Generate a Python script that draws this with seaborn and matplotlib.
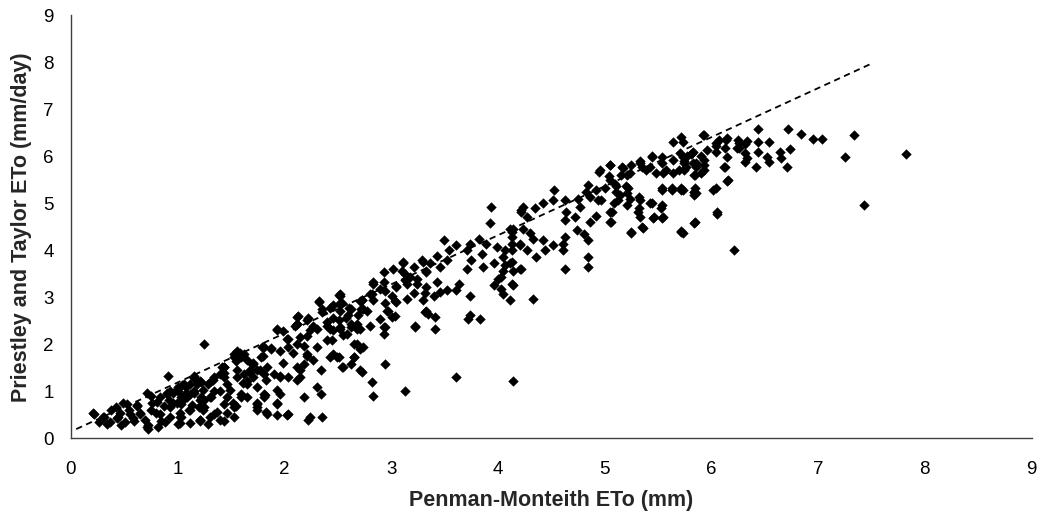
import matplotlib
matplotlib.use("Agg")
import matplotlib.pyplot as plt
import seaborn as sns

# Penman-Monteith ETo (mm) vs Priestley and Taylor ETo (mm/day)
pm_eto = [
    # low end
    0.21, 0.30, 0.38, 0.43, 0.49, 0.54, 0.51, 0.62, 0.65, 0.69,
    0.71, 0.76, 0.80, 0.83, 0.87, 0.88, 0.96, 0.99, 1.02, 1.04,
    1.08, 1.15, 1.13, 1.12, 1.21, 1.22, 1.24, 0.26, 0.37, 0.46,
    0.58, 0.82, 0.91, 0.71, 0.72,
    0.22, 0.31, 0.34, 0.42, 0.44, 0.47, 0.53, 0.55, 0.59, 0.62,
    0.65, 0.72, 0.75, 0.75, 0.81, 0.83, 0.84, 0.90, 0.93, 0.92,
    1.00, 1.03, 1.03, 1.00, 1.09, 1.11, 1.15, 1.18, 1.20, 1.21,
    1.25, 1.28, 1.31, 1.34, 1.37, 1.42, 1.43, 1.43, 1.46, 1.53,
    1.53, 1.56, 1.59, 1.62, 1.65, 1.70, 1.74, 1.79, 1.81, 1.81,
    1.74, 1.25,
    # 1 - 2.2
    1.15, 1.93, 2.12, 2.02, 1.87, 1.80, 1.58, 1.55, 1.43, 1.43,
    1.33, 1.22, 1.08, 0.99, 0.90, 0.96, 1.05, 1.15, 1.24, 1.30,
    1.21, 1.12, 1.02, 0.93, 1.02, 1.21, 1.30, 1.40, 1.46, 1.52,
    1.49, 1.61, 1.68, 1.71, 1.77, 1.83, 1.74, 1.65, 1.55, 1.74,
    1.82, 1.93, 1.93, 1.83, 2.02, 1.96, 1.99, 2.08, 2.15, 2.12,
    2.21, 2.22, 2.21, 2.18,
    # 1 - 2.8
    2.51, 2.32, 2.35, 2.46, 2.54, 2.62, 2.73, 2.74, 2.12, 2.21,
    2.10, 1.93, 2.03, 2.15, 2.24, 2.31, 2.40, 2.43, 2.52, 2.62,
    2.71, 2.55, 2.40, 2.31, 2.21, 2.12, 2.03, 1.96, 1.87, 1.81,
    1.78, 1.71, 1.65, 1.59, 1.56, 1.53, 1.43, 1.40, 1.34, 1.28,
    1.21, 1.15, 1.12, 1.06, 1.00, 0.93, 1.03, 1.12, 1.21, 1.31,
    1.40, 1.46, 1.56, 1.62, 1.68, 1.74, 1.84, 1.90, 1.96, 2.03,
    2.12, 2.18, 2.27, 2.34, 2.15, 2.31, 2.43, 2.49, 2.55, 2.62,
    2.65, 2.71, 2.74, 2.68, 2.34, 2.18, 1.96, 1.81, 1.93, 1.84,
    1.93, 2.03, 1.74, 1.53, 1.59, 1.43, 1.25, 1.34, 1.65, 1.71,
    2.24, 2.35,
    # 2 - 3.4
    3.11, 3.30, 3.33, 3.02, 2.93, 3.13, 3.05, 3.15, 3.24, 2.83,
    2.93, 2.94, 2.82, 2.71, 2.72, 2.52, 2.51, 2.32, 2.35, 2.43,
    2.61, 2.58, 2.46, 2.22, 2.13, 2.12, 2.27, 2.40, 2.52, 2.68,
    2.80, 2.90, 2.93, 2.96, 3.04, 3.04, 3.15, 3.22, 3.33, 3.21,
    3.32, 1.99,
    # 2.4 - 4.3
    3.94, 3.93, 4.22, 4.27, 4.11, 4.13, 4.21, 4.13, 4.22, 4.13,
    4.05, 4.00, 3.96, 4.03, 4.13, 4.11, 3.96, 3.86, 3.85, 3.89,
    3.99, 3.82, 3.74, 3.71, 3.75, 3.71, 3.64, 3.61, 3.50, 3.54,
    3.61, 3.52, 3.43, 3.46, 3.36, 3.33, 3.29, 3.21, 3.18, 3.24,
    3.33, 3.43, 3.46, 3.52, 3.40, 3.30, 3.35, 3.41, 3.32, 3.11,
    3.10, 3.13, 3.05, 3.01, 3.05, 2.97, 3.01, 2.94, 2.94, 2.93,
    2.90, 2.83, 2.80, 2.83, 2.77, 2.73, 2.69, 2.68, 2.62, 2.60,
    2.59, 2.52, 2.52, 2.51, 2.46, 2.45, 2.65, 2.71, 2.65, 2.54,
    2.51, 2.46, 2.73, 2.82, 2.83, 2.94, 3.13, 3.22, 3.41, 3.74,
    3.72, 3.83, 3.74, 3.61, 4.14,
    # 4 - 5.9
    5.05, 4.95, 5.05, 5.17, 5.21, 5.33, 5.39, 5.44, 5.54, 5.64,
    5.73, 5.82, 5.86, 5.48, 5.58, 5.70, 5.76, 5.54, 5.63, 5.72,
    5.84, 5.84, 5.72, 5.45, 5.54, 5.53, 5.44, 5.33, 5.31, 5.36,
    5.25, 5.21, 5.14, 5.20, 5.11, 5.09, 5.05, 5.06, 4.92, 4.86,
    4.83, 4.94, 4.92, 4.86, 4.81, 4.84, 4.74, 4.84, 4.75, 4.77,
    4.72, 4.63, 4.64, 4.63, 4.53, 4.52, 4.42, 4.35, 4.24, 4.22,
    4.14, 4.13, 4.24, 4.30, 4.33, 4.42, 4.52, 4.63, 4.61, 4.61,
    4.44, 4.36, 4.27, 4.21, 4.13, 4.07, 4.05, 4.11, 4.21, 4.14,
    4.07, 4.03, 4.14, 4.05, 4.33, 4.84, 4.84, 4.63,
    # 5 - 6.3
    5.72, 5.64, 5.93, 6.07, 6.15, 6.25, 6.33, 6.24, 6.33, 6.13,
    6.04, 5.96, 5.90, 5.83, 5.77, 5.71, 5.74, 5.86, 5.93, 5.85,
    5.90, 6.13, 6.16, 6.04, 6.05, 5.85, 5.72, 5.85, 5.86, 5.72,
    5.63, 5.54, 5.64, 5.55, 5.54, 5.44, 5.43, 5.35, 5.33, 5.25,
    5.24, 5.16, 5.15, 5.05, 5.04, 5.10, 5.00, 5.11, 5.13, 5.22,
    5.24, 5.21, 5.32, 5.32, 5.33, 5.43, 5.54, 5.46, 5.55, 5.35,
    5.25, 5.07, 5.05, 4.97, 4.96,
    # high end
    7.82, 7.43, 7.34, 7.25, 7.04, 6.95, 6.84, 6.72, 6.74, 6.71,
    6.64, 6.65, 6.54, 6.52, 6.54, 6.44, 6.44, 6.44, 6.42, 6.32,
    6.32, 6.32, 6.26, 6.26, 6.21, 6.15, 6.12, 6.14, 6.15, 6.05,
    6.02, 6.04, 6.04, 5.92, 5.93, 5.93, 5.84, 5.84, 5.84, 5.73,
    5.73, 5.73, 5.74, 5.74, 5.81, 5.83,
]

pt_eto = [
    0.54, 0.46, 0.61, 0.43, 0.75, 0.61, 0.36, 0.71, 0.54, 0.39,
    0.25, 0.75, 0.54, 0.89, 0.68, 0.36, 0.96, 0.75, 0.46, 1.14,
    0.96, 1.32, 0.71, 0.32, 0.39, 0.89, 0.61, 0.36, 0.36, 0.54,
    0.43, 0.25, 1.32, 0.96, 0.21,
    0.53, 0.45, 0.31, 0.67, 0.45, 0.28, 0.74, 0.53, 0.38, 0.70,
    0.53, 0.28, 0.91, 0.60, 0.77, 0.53, 0.38, 0.95, 0.67, 0.81,
    1.02, 0.74, 0.45, 0.31, 0.88, 0.60, 1.02, 1.16, 0.67, 0.38,
    0.81, 0.31, 1.23, 1.02, 0.56, 1.52, 1.30, 0.38, 0.88, 0.45,
    1.73, 1.45, 0.95, 1.80, 1.23, 1.59, 0.74, 1.94, 1.38, 0.95,
    0.60, 2.01,
    1.28, 2.32, 2.43, 2.11, 1.93, 1.75, 1.82, 1.64, 1.53, 1.39,
    1.25, 1.21, 1.10, 1.03, 0.96, 0.75, 0.82, 0.96, 1.03, 0.89,
    0.68, 0.61, 0.54, 0.46, 0.32, 0.39, 0.46, 0.39, 0.54, 0.75,
    1.03, 1.18, 1.39, 1.61, 1.46, 1.25, 1.10, 0.89, 0.68, 0.75,
    0.93, 1.03, 0.75, 0.57, 0.50, 1.32, 1.61, 1.82, 1.46, 1.25,
    1.75, 0.39, 2.18, 1.96,
    3.04, 2.91, 2.69, 2.83, 2.87, 2.76, 2.94, 2.76, 2.59, 2.51,
    2.40, 2.30, 2.12, 2.16, 2.30, 2.33, 2.47, 2.33, 2.37, 2.44,
    2.33, 2.19, 2.09, 1.94, 1.80, 2.01, 1.94, 1.87, 1.91, 1.94,
    1.73, 1.59, 1.66, 1.73, 1.87, 1.80, 1.52, 1.38, 1.30, 1.16,
    1.23, 1.30, 1.16, 1.16, 1.09, 1.02, 0.88, 0.95, 0.81, 0.88,
    1.02, 1.16, 1.30, 1.38, 1.45, 1.45, 1.52, 1.38, 1.30, 1.30,
    1.52, 1.59, 1.66, 1.45, 1.30, 1.09, 1.73, 1.73, 1.52, 1.59,
    1.73, 1.45, 1.94, 2.01, 0.95, 0.88, 0.95, 0.88, 0.74, 0.53,
    0.49, 0.53, 0.67, 0.67, 0.88, 0.74, 0.67, 0.53, 1.16, 1.30,
    0.45, 0.45,
    3.75, 3.75, 3.53, 3.60, 3.53, 3.50, 3.25, 3.28, 3.39, 3.32,
    3.32, 3.14, 3.07, 2.93, 2.75, 3.07, 2.85, 2.93, 2.75, 2.78,
    2.78, 2.57, 2.57, 2.57, 2.60, 2.43, 2.39, 2.39, 2.32, 2.32,
    2.39, 2.53, 2.36, 2.71, 2.93, 2.60, 2.96, 2.39, 2.71, 3.10,
    3.10, 2.28,
    4.92, 4.58, 4.85, 4.71, 4.46, 4.29, 4.14, 4.00, 3.61, 3.76,
    3.57, 3.40, 3.26, 3.18, 3.29, 2.94, 3.72, 3.65, 3.93, 4.14,
    4.08, 4.25, 4.14, 4.00, 3.79, 3.61, 3.29, 3.15, 4.21, 4.00,
    4.11, 3.79, 3.89, 3.65, 3.72, 3.57, 3.79, 3.65, 3.43, 3.29,
    3.23, 3.33, 3.12, 3.15, 3.02, 2.94, 2.65, 2.59, 2.69, 3.72,
    3.55, 3.36, 3.23, 3.02, 2.91, 2.72, 2.59, 2.87, 2.37, 2.23,
    3.18, 3.29, 3.08, 2.94, 2.72, 2.94, 2.62, 2.44, 2.37, 2.62,
    2.23, 3.02, 2.72, 2.51, 2.30, 2.09, 2.01, 1.91, 1.74, 1.52,
    1.74, 1.80, 1.41, 1.20, 0.91, 1.59, 1.02, 2.37, 2.33, 2.62,
    2.55, 2.55, 3.02, 1.30, 1.23,
    5.81, 5.67, 5.49, 5.74, 5.60, 5.85, 5.70, 5.99, 5.99, 5.91,
    5.99, 6.06, 5.85, 5.64, 5.71, 5.71, 5.77, 5.28, 5.28, 5.28,
    5.24, 4.58, 4.39, 4.68, 4.68, 4.91, 5.00, 5.06, 4.82, 4.47,
    4.37, 5.21, 5.17, 5.36, 5.36, 5.00, 4.82, 4.60, 5.28, 5.14,
    5.24, 5.06, 4.74, 4.60, 4.35, 4.21, 4.43, 5.38, 5.10, 4.92,
    4.71, 5.06, 4.82, 4.64, 5.29, 5.06, 5.00, 4.89, 4.92, 4.82,
    4.46, 4.39, 4.46, 4.36, 4.25, 4.21, 4.11, 4.29, 4.14, 4.00,
    4.00, 3.86, 4.00, 4.11, 4.14, 4.00, 3.86, 3.72, 3.61, 3.57,
    3.68, 3.43, 3.26, 3.08, 2.97, 3.86, 3.64, 3.61,
    6.41, 6.30, 6.46, 6.35, 6.39, 6.35, 6.32, 6.17, 5.96, 6.17,
    6.21, 6.14, 6.00, 6.10, 6.00, 6.07, 5.85, 5.78, 5.82, 5.60,
    5.64, 5.78, 5.49, 5.32, 4.82, 4.60, 4.41, 5.32, 5.21, 5.32,
    5.32, 5.32, 5.64, 5.64, 5.85, 6.00, 5.78, 5.78, 5.89, 5.82,
    5.64, 5.78, 5.60, 5.82, 5.57, 5.42, 5.32, 5.25, 5.07, 5.32,
    5.10, 4.96, 5.14, 4.89, 4.71, 5.00, 4.96, 4.71, 4.71, 4.50,
    4.39, 4.82, 4.60, 5.07, 5.71,
    6.05, 4.96, 6.45, 5.98, 6.36, 6.36, 6.47, 6.57, 6.16, 5.77,
    6.09, 5.96, 6.30, 5.99, 5.88, 6.57, 6.31, 6.09, 5.77, 6.27,
    6.06, 5.88, 6.28, 6.17, 4.00, 5.47, 5.77, 6.34, 5.99, 4.78,
    5.29, 6.28, 6.09, 6.45, 5.91, 5.70, 5.24, 5.17, 5.60, 4.37,
    5.28, 6.30, 5.90, 5.70, 6.05, 5.85,
]

# dashed reference line (ends)
line_x = [0.05, 7.52]
line_y = [0.20, 7.99]

ticks = list(range(0, 10))

sns.set_style("white")
plt.rcParams["font.family"] = ["Liberation Sans", "DejaVu Sans"]

fig = plt.figure(figsize=(10.43, 5.22), dpi=100)
ax = fig.add_axes([0.068, 0.160, 0.921, 0.811])

sns.scatterplot(x=pm_eto, y=pt_eto, marker="D", color="black",
                s=28, linewidth=0, ax=ax)
sns.lineplot(x=line_x, y=line_y, color="black", linewidth=1.3,
             dashes=False, ax=ax)
ax.lines[-1].set_dashes((3.5, 2.5))

ax.set_xlim(0, 9)
ax.set_ylim(0, 9)
ax.set_xticks(ticks)
ax.set_yticks(ticks)
ax.tick_params(axis="both", direction="out", length=4.5, width=1,
               color="#404040", labelsize=13.5, labelcolor="black")
ax.tick_params(axis="x", pad=12)
ax.tick_params(axis="y", pad=8)

for side in ["top", "right"]:
    ax.spines[side].set_visible(False)
for side in ["left", "bottom"]:
    ax.spines[side].set_color("#404040")
    ax.spines[side].set_linewidth(1)

ax.set_xlabel("Penman-Monteith ETo (mm)", fontsize=15.5, fontweight="bold", labelpad=8)
ax.set_ylabel("Priestley and Taylor ETo (mm/day)", fontsize=15.5, fontweight="bold", labelpad=8)

fig.savefig("out.png", dpi=100, facecolor="white")
